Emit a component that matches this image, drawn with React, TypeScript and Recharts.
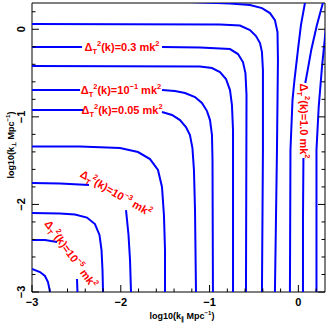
import React from "react";
import { ScatterChart, Scatter, XAxis, YAxis } from "recharts";

const BLUE = "#0000ff";
const RED = "#ff0000";
const FONT = "'Liberation Sans', Arial, Helvetica, sans-serif";

// tick positions (major at integers)
const xTicks = [-3, -2.8, -2.6, -2.4, -2.2, -2, -1.8, -1.6, -1.4, -1.2, -1, -0.8, -0.6, -0.4, -0.2, 0, 0.2];
const yTicks = [-3, -2.8, -2.6, -2.4, -2.2, -2, -1.8, -1.6, -1.4, -1.2, -1, -0.8, -0.6, -0.4, -0.2, 0, 0.2];

// contour lines as [log10 k_par, log10 k_perp]
const c1 = [[-3, -2.737], [-2.91, -2.772], [-2.854, -2.817], [-2.82, -2.886], [-2.797, -3]];
const c2a = [[-3, -2.406], [-2.854, -2.406], [-2.718, -2.429]];
const c2b = [[-2.493, -2.852], [-2.488, -3]];
const c3 = [[-3, -2.098], [-2.685, -2.104], [-2.516, -2.115], [-2.381, -2.15], [-2.291, -2.224], [-2.24, -2.349], [-2.217, -2.521], [-2.206, -2.749], [-2.2, -3]];
const c4a = [[-3, -1.756], [-2.685, -1.761], [-2.358, -1.779]];
const c4b = [[-1.941, -2.064], [-1.913, -2.349], [-1.896, -2.635], [-1.885, -3]];
const c5 = [[-3, -1.339], [-2.459, -1.339], [-2.009, -1.356], [-1.806, -1.402], [-1.671, -1.482], [-1.581, -1.607], [-1.536, -1.801], [-1.514, -2.121], [-1.502, -2.521], [-1.502, -3]];
const c6a = [[-3, -0.922], [-2.426, -0.922]];
const c6b = [[-1.536, -0.945], [-1.423, -0.979], [-1.333, -1.037], [-1.266, -1.116], [-1.221, -1.208], [-1.193, -1.356], [-1.176, -1.607], [-1.164, -2.064], [-1.153, -3]];
const c7a = [[-3, -0.694], [-2.459, -0.694]];
const c7b = [[-1.536, -0.694], [-1.39, -0.705], [-1.277, -0.728], [-1.164, -0.774], [-1.086, -0.842], [-1.029, -0.934], [-0.995, -1.037], [-0.973, -1.208], [-0.967, -1.493], [-0.962, -3]];
const c8 = [[-3, -0.42], [-1.108, -0.426], [-0.973, -0.443], [-0.883, -0.489], [-0.815, -0.568], [-0.77, -0.694], [-0.748, -0.865], [-0.736, -1.151], [-0.736, -3]];
const c9a = [[-3, -0.203], [-2.437, -0.203]];
const c9b = [[-1.536, -0.203], [-1.108, -0.209], [-0.77, -0.226], [-0.68, -0.283], [-0.624, -0.374], [-0.596, -0.5], [-0.584, -0.751], [-0.59, -3]];
const c10 = [[-3, 0.059], [-0.883, 0.054], [-0.658, 0.042], [-0.545, -0.009], [-0.477, -0.078], [-0.432, -0.158], [-0.41, -0.26], [-0.399, -0.466], [-0.399, -1.379], [-0.41, -3]];
const c11 = [[-1.221, 0.311], [-0.77, 0.293], [-0.545, 0.276], [-0.41, 0.242], [-0.32, 0.185], [-0.264, 0.105], [-0.235, -0.032], [-0.23, -0.352], [-0.241, -1.379], [-0.264, -3]];
const c12 = [[0.08, 0.333], [0.029, 0.048], [-0.005, -0.237], [-0.044, -0.58], [-0.066, -0.808], [-0.089, -1.379], [-0.095, -3]];
const c13a = [[0.285, 0.333], [0.209, 0.048], [0.145, -0.237], [0.105, -0.466], [0.078, -0.614]];
const c13b = [[0.057, -1.47], [0.052, -2.178], [0.052, -3]];
const c14 = [[0.322, 0.105], [0.311, 0.025], [0.266, -0.432], [0.229, -0.888], [0.204, -1.379], [0.204, -3]];

const contours = [c1, c2a, c2b, c3, c4a, c4b, c5, c6a, c6b, c7a, c7b, c8, c9a, c9b, c10, c11, c12, c13a, c13b, c14];

// contour labels
const labelX = [-1.986, -1.998, -1.986, -2.054, -2.561, 0.063];
const labelY = [-0.203, -0.694, -0.922, -1.87, -2.566, -1.048];
const labelAngle = [0, 0, 0, 30, 54, 90];
const labelBase = ["0.3", "10", "0.05", "10", "10", "1.0"];
const labelExp = ["", "\u22121", "", "\u22123", "\u22125", ""];

const labels = labelX.map((x, i) => ({
  x,
  y: labelY[i],
  angle: labelAngle[i],
  base: labelBase[i],
  exp: labelExp[i],
}));

const isMajor = (v: number) => Math.abs(v - Math.round(v)) < 1e-6;
const fmt = (v: number) => (Math.round(v) === 0 ? "0" : "\u2212" + Math.abs(Math.round(v)));

const tickText = { fontFamily: FONT, fontWeight: "bold" as const, fontSize: 11, fill: "#000" };

function BottomTick({ x, y, payload }: any) {
  const major = isMajor(payload.value);
  return (
    <g>
      <line x1={x} x2={x} y1={y} y2={y - (major ? 7 : 3.5)} stroke="#000" />
      {major && (
        <text x={x} y={y + 14} textAnchor="middle" {...tickText}>
          {fmt(payload.value)}
        </text>
      )}
    </g>
  );
}

function TopTick({ x, y, payload }: any) {
  const major = isMajor(payload.value);
  return <line x1={x} x2={x} y1={y} y2={y + (major ? 7 : 3.5)} stroke="#000" />;
}

function LeftTick({ x, y, payload }: any) {
  const major = isMajor(payload.value);
  return (
    <g>
      <line x1={x} x2={x + (major ? 7 : 3.5)} y1={y} y2={y} stroke="#000" />
      {major && (
        <text x={x - 7} y={y} textAnchor="middle" transform={`rotate(-90 ${x - 7} ${y})`} {...tickText}>
          {fmt(payload.value)}
        </text>
      )}
    </g>
  );
}

function RightTick({ x, y, payload }: any) {
  const major = isMajor(payload.value);
  return <line x1={x} x2={x - (major ? 7 : 3.5)} y1={y} y2={y} stroke="#000" />;
}

const noDot = () => <g />;

function ContourLabel(props: any) {
  const { cx, cy, payload } = props;
  if (cx == null || cy == null) return <g />;
  return (
    <text
      x={cx}
      y={cy}
      dy={4}
      textAnchor="middle"
      transform={`rotate(${payload.angle} ${cx} ${cy})`}
      fill={RED}
      fontFamily={FONT}
      fontWeight="bold"
      fontSize={11}
    >
      Δ
      <tspan fontSize={7.5} dy={3}>T</tspan>
      <tspan fontSize={7.5} dy={-8}>2</tspan>
      <tspan dy={5}>{"(k)=" + payload.base}</tspan>
      {payload.exp ? <tspan fontSize={7.5} dy={-5}>{payload.exp}</tspan> : null}
      <tspan dy={payload.exp ? 5 : 0}>{" mk"}</tspan>
      <tspan fontSize={7.5} dy={-5}>2</tspan>
    </text>
  );
}

const axisCommon = {
  type: "number" as const,
  domain: [-3, 0.3],
  allowDataOverflow: true,
  interval: 0 as const,
  tickSize: 0,
  tickMargin: 0,
  tickLine: false,
  axisLine: { stroke: "#000", strokeWidth: 1 },
};

export default function App() {
  return (
    <div style={{ position: "absolute", left: 0, top: 0, width: 327, height: 327, background: "#fff" }}>
      <ScatterChart width={327} height={327} margin={{ top: 0, right: 0, bottom: 0, left: 0 }}>
        <XAxis xAxisId={0} dataKey="x" {...axisCommon} ticks={xTicks} height={35} tick={<BottomTick />} />
        <XAxis xAxisId="top" orientation="top" {...axisCommon} ticks={xTicks} height={3} tick={<TopTick />} />
        <YAxis yAxisId={0} dataKey="y" {...axisCommon} ticks={yTicks} width={32} tick={<LeftTick />} />
        <YAxis yAxisId="right" orientation="right" {...axisCommon} ticks={yTicks} width={2} tick={<RightTick />} />
        {contours.map((c, i) => (
          <Scatter
            key={i}
            data={c.map(([x, y]) => ({ x, y }))}
            fill={BLUE}
            line={{ stroke: BLUE, strokeWidth: 2 }}
            shape={noDot}
            isAnimationActive={false}
          />
        ))}
        <Scatter data={labels} fill={RED} shape={ContourLabel} isAnimationActive={false} />
      </ScatterChart>
      <div
        style={{
          position: "absolute",
          left: 182,
          top: 316,
          transform: "translate(-50%, -50%)",
          whiteSpace: "nowrap",
          fontFamily: FONT,
          fontWeight: "bold",
          fontSize: 9,
          lineHeight: "10px",
        }}
      >
        log10(k<sub style={{ fontSize: 6 }}>∥</sub> Mpc<sup style={{ fontSize: 6 }}>−1</sup>)
      </div>
      <div
        style={{
          position: "absolute",
          left: 11,
          top: 145,
          transform: "translate(-50%, -50%) rotate(-90deg)",
          whiteSpace: "nowrap",
          fontFamily: FONT,
          fontWeight: "bold",
          fontSize: 9,
          lineHeight: "10px",
        }}
      >
        log10(k<sub style={{ fontSize: 6 }}>⊥</sub> Mpc<sup style={{ fontSize: 6 }}>−1</sup>)
      </div>
    </div>
  );
}
